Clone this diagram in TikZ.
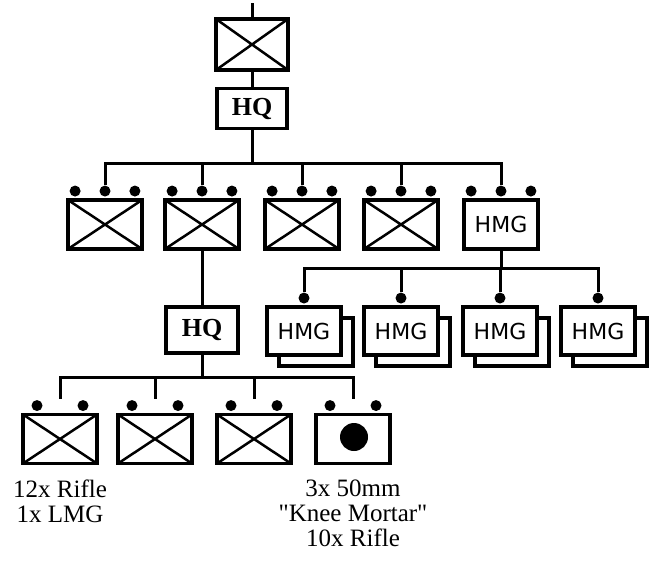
\documentclass[tikz,border=0pt]{standalone}
\usepackage{fontspec}
\setmainfont{Liberation Serif}[Ligatures=TeXOff]
\newfontfamily\hmgfont{DejaVu Sans}
\usetikzlibrary{positioning,backgrounds,calc}

\begin{document}
\begin{tikzpicture}[
  x=1pt, y=-1pt,
  font=\fontsize{25}{25}\selectfont,
  unitbox/.style={
    draw,
    fill=white,
    line width=3.5pt,
    inner sep=0pt,
    minimum width=74pt,
    minimum height=49pt
  },
  infantry/.style={
    unitbox,
    path picture={
      \draw[line width=2.5pt] (path picture bounding box.north west) -- (path picture bounding box.south east)
        (path picture bounding box.south west) -- (path picture bounding box.north east);
    }
  },
  hqbox/.style={unitbox, font=\fontsize{26}{26}\selectfont\bfseries},
  hmgbox/.style={unitbox, minimum height=48pt, font=\hmgfont\fontsize{22}{24}\selectfont},
  pip/.style={circle, fill=black, inner sep=0pt, minimum size=11pt},
  link/.style={line width=3pt},
  strength/.style={align=center, anchor=north, inner sep=0pt}
]

  \useasboundingbox (0,0) rectangle (652,562);

  % Battalion and its HQ
  \node[infantry, minimum width=72pt, minimum height=51pt] (bn) at (252,44.5) {};
  \coordinate (bntop) at (252,3);
  \node[hqbox, minimum width=70pt, minimum height=40pt] (bnhq) at (252,108.5) {HQ};

  \draw[link] (bntop) -- (bn);
  \draw[link] (bn) -- (bnhq);

  % Companies
  \node[infantry] (co1) at (105,224.5) {};
  \node[infantry] (co2) at (202,224.5) {};
  \node[infantry] (co3) at (302,224.5) {};
  \node[infantry] (co4) at (401,224.5) {};
  \node[hmgbox, minimum height=49pt] (hmg) at (501,224.5) {HMG};

  % Company size pips (three each)
  \node[pip, above=1.5pt of co1] (co1b) {};
  \node[pip, left=18.5pt of co1b] (co1a) {};
  \node[pip, right=18.5pt of co1b] (co1c) {};
  \node[pip, above=1.5pt of co2] (co2b) {};
  \node[pip, left=18.5pt of co2b] (co2a) {};
  \node[pip, right=18.5pt of co2b] (co2c) {};
  \node[pip, above=1.5pt of co3] (co3b) {};
  \node[pip, left=18.5pt of co3b] (co3a) {};
  \node[pip, right=18.5pt of co3b] (co3c) {};
  \node[pip, above=1.5pt of co4] (co4b) {};
  \node[pip, left=18.5pt of co4b] (co4a) {};
  \node[pip, right=18.5pt of co4b] (co4c) {};
  \node[pip, above=1.5pt of hmg] (hmgb) {};
  \node[pip, left=18.5pt of hmgb] (hmga) {};
  \node[pip, right=18.5pt of hmgb] (hmgc) {};

  \coordinate (cobus) at (252,163);
  \draw[link] (bnhq) -- (cobus);
  \draw[link] (co1b) |- (cobus);
  \draw[link] (co2b) |- (cobus);
  \draw[link] (co3b) |- (cobus);
  \draw[link] (co4b) |- (cobus);
  \draw[link] (hmgb) |- (cobus);

  % Company HQ and platoons
  \node[hqbox, minimum width=72pt, minimum height=46pt] (cohq) at (202,330) {HQ};
  \draw[link] (co2) -- (cohq);

  \node[infantry] (pl1) at (60,439) {};
  \node[infantry] (pl2) at (155,439) {};
  \node[infantry] (pl3) at (254,439) {};
  \node[unitbox] (pl4) at (353,439) {};
  \node[circle, fill=black, inner sep=0pt, minimum size=28pt] (mortar) at ([shift={(1,-2)}]pl4.center) {};

  % Platoon size pips (two each)
  \node[pip, above=1.5pt of pl1.north, xshift=-23pt] (pl1a) {};
  \node[pip, above=1.5pt of pl1.north, xshift=23pt] (pl1b) {};
  \node[pip, above=1.5pt of pl2.north, xshift=-23pt] (pl2a) {};
  \node[pip, above=1.5pt of pl2.north, xshift=23pt] (pl2b) {};
  \node[pip, above=1.5pt of pl3.north, xshift=-23pt] (pl3a) {};
  \node[pip, above=1.5pt of pl3.north, xshift=23pt] (pl3b) {};
  \node[pip, above=1.5pt of pl4.north, xshift=-23pt] (pl4a) {};
  \node[pip, above=1.5pt of pl4.north, xshift=23pt] (pl4b) {};

  \coordinate[above=14pt of pl1] (pl1tap);
  \coordinate[above=14pt of pl2] (pl2tap);
  \coordinate[above=14pt of pl3] (pl3tap);
  \coordinate[above=14pt of pl4] (pl4tap);

  \coordinate (plbus) at (202,377);
  \draw[link] (cohq) -- (plbus);
  \draw[link] (pl1tap) |- (plbus);
  \draw[link] (pl2tap) |- (plbus);
  \draw[link] (pl3tap) |- (plbus);
  \draw[link] (pl4tap) |- (plbus);

  % Weapons of the platoons
  \node[strength, below=14pt of pl1] (pl1kit) {12x Rifle\\1x LMG};
  \node[strength, below=14pt of pl4] (pl4kit) {3x 50mm\\"Knee Mortar"\\10x Rifle};

  % HMG sections
  \node[hmgbox] (hmg1) at (304,331) {HMG};
  \node[hmgbox] (hmg2) at (401,331) {HMG};
  \node[hmgbox] (hmg3) at (500,331) {HMG};
  \node[hmgbox] (hmg4) at (598,331) {HMG};

  \begin{scope}[on background layer]
    \node[unitbox, minimum height=48pt] (hmg1back) at ([shift={(12,11)}]hmg1.center) {};
    \node[unitbox, minimum height=48pt] (hmg2back) at ([shift={(12,11)}]hmg2.center) {};
    \node[unitbox, minimum height=48pt] (hmg3back) at ([shift={(12,11)}]hmg3.center) {};
    \node[unitbox, minimum height=48pt] (hmg4back) at ([shift={(12,11)}]hmg4.center) {};
  \end{scope}

  \node[pip, above=1.5pt of hmg1] (hmg1pip) {};
  \node[pip, above=1.5pt of hmg2] (hmg2pip) {};
  \node[pip, above=1.5pt of hmg3] (hmg3pip) {};
  \node[pip, above=1.5pt of hmg4] (hmg4pip) {};

  \coordinate (hmgbus) at (501,268);
  \draw[link] (hmg) -- (hmgbus);
  \draw[link] (hmg1pip) |- (hmgbus);
  \draw[link] (hmg2pip) |- (hmgbus);
  \draw[link] (hmg3pip) |- (hmgbus);
  \draw[link] (hmg4pip) |- (hmgbus);

\end{tikzpicture}
\end{document}
